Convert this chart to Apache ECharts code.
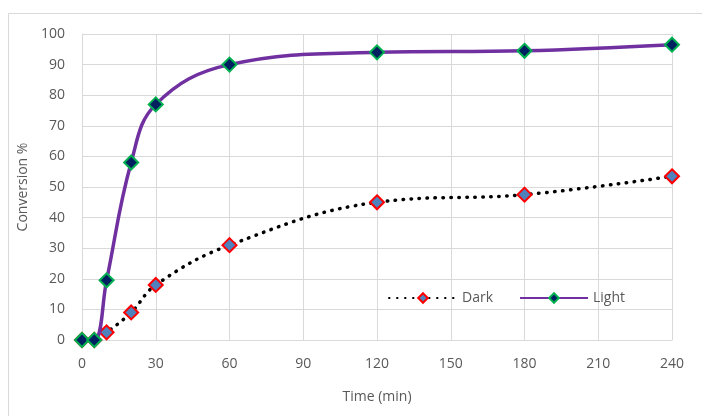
<!DOCTYPE html>
<html>
<head>
<meta charset="utf-8">
<script src="https://cdn.jsdelivr.net/npm/echarts@6/dist/echarts.min.js"></script>
<style>
html, body { margin: 0; padding: 0; background: #fff; }
#chart { width: 702px; height: 416px; }
</style>
</head>
<body>
<div id="chart"></div>
<script>
// time points (min) and conversion values
var timeMin = [0, 5, 10, 20, 30, 60, 120, 180, 240];
var darkConv = [0, 0, 2.5, 9, 18, 31, 45, 47.5, 53.5];
var lightConv = [0, 0, 19.5, 58, 77, 90, 94, 94.5, 96.5];
var seriesNames = ['Dark', 'Light'];

function pairs(xs, ys) {
  return xs.map(function (x, i) { return [x, ys[i]]; });
}

var chart = echarts.init(document.getElementById('chart'));
var labelColor = '#595959';
var gridColor = '#d9d9d9';

chart.setOption({
  animation: false,
  textStyle: { fontFamily: 'Open Sans, Calibri, sans-serif' },
  graphic: [{
    type: 'rect',
    shape: { x: 8.5, y: 13.5, width: 700, height: 410 },
    style: { fill: 'none', stroke: '#d9d9d9', lineWidth: 1 },
    silent: true
  }],
  grid: { left: 82, right: 30, top: 34, bottom: 76 },
  legend: {
    data: seriesNames,
    left: 383,
    top: 286,
    itemWidth: 68,
    itemHeight: 12,
    itemGap: 26,
    textStyle: { color: labelColor, fontSize: 14 }
  },
  xAxis: {
    type: 'value',
    min: 0,
    max: 240,
    interval: 30,
    name: 'Time (min)',
    nameLocation: 'middle',
    nameGap: 50,
    nameTextStyle: { color: labelColor, fontSize: 14 },
    axisLine: { lineStyle: { color: gridColor, width: 1 } },
    axisTick: { show: false },
    axisLabel: { color: labelColor, fontSize: 14, margin: 17 },
    splitLine: { lineStyle: { color: gridColor, width: 1 } }
  },
  yAxis: {
    type: 'value',
    min: 0,
    max: 100,
    interval: 10,
    name: 'Conversion %',
    nameLocation: 'middle',
    nameGap: 52,
    nameTextStyle: { color: labelColor, fontSize: 14 },
    axisLine: { show: true, lineStyle: { color: gridColor, width: 1 } },
    axisTick: { show: false },
    axisLabel: { color: labelColor, fontSize: 14, margin: 17 },
    splitLine: { lineStyle: { color: gridColor, width: 1 } }
  },
  series: [{
    name: seriesNames[0],
    type: 'line',
    data: pairs(timeMin, darkConv),
    smooth: 0.4,
    symbol: 'diamond',
    symbolSize: 14,
    lineStyle: { color: '#000', width: 3.5, type: [0.5, 7.5], cap: 'round' },
    itemStyle: { color: '#4f81bd', borderColor: '#ff0000', borderWidth: 2 },
    z: 2
  }, {
    name: seriesNames[1],
    type: 'line',
    data: pairs(timeMin, lightConv),
    smooth: 0.4,
    symbol: 'diamond',
    symbolSize: 14,
    lineStyle: { color: '#7030a0', width: 3.5 },
    itemStyle: { color: '#002060', borderColor: '#00b050', borderWidth: 2 },
    z: 3
  }]
});
</script>
</body>
</html>
